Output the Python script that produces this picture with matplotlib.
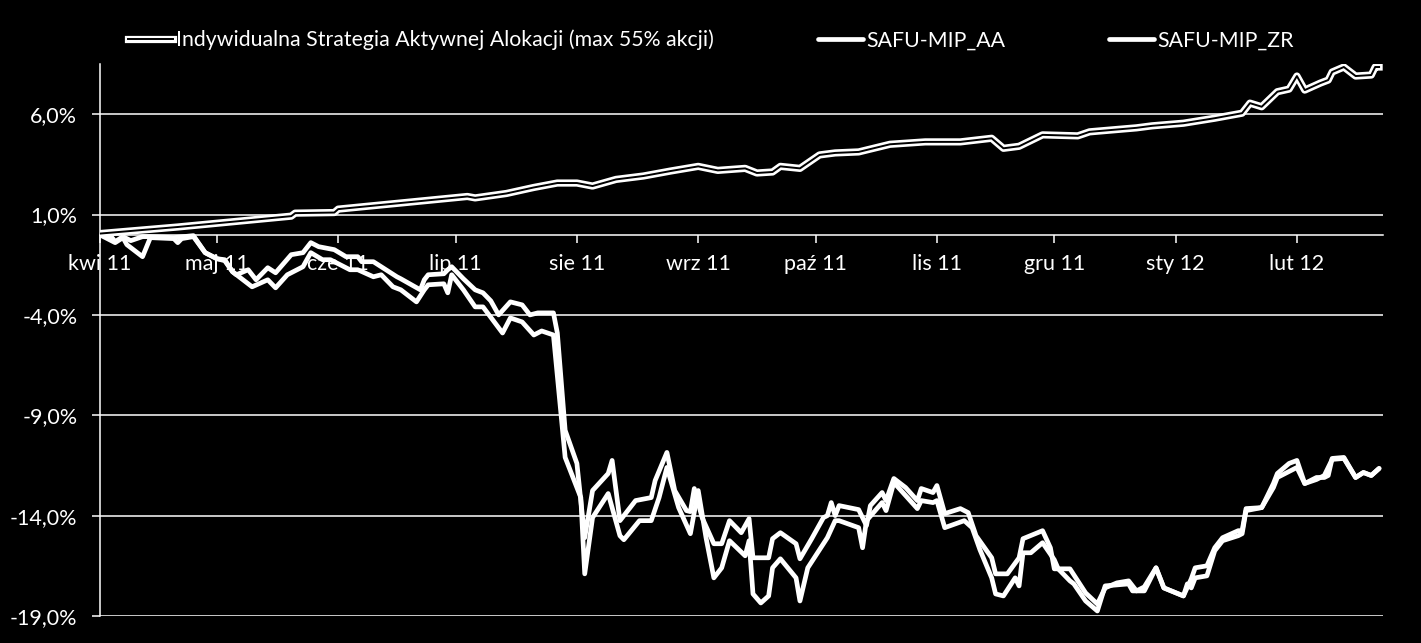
import matplotlib
matplotlib.use("Agg")
import matplotlib.pyplot as plt
import matplotlib.patheffects as pe
import pandas as pd

plt.rcParams['font.family'] = ['Lato', 'DejaVu Sans']

start_date = "2011-04-01"
month_labels = ["kwi 11", "maj 11", "cze 11", "lip 11", "sie 11", "wrz 11",
                "paź 11", "lis 11", "gru 11", "sty 12", "lut 12"]
y_ticks = [-19, -14, -9, -4, 1, 6]

series_names = ["Indywidualna Strategia Aktywnej Alokacji (max 55% akcji)",
                "SAFU-MIP_AA", "SAFU-MIP_ZR"]

# days since start date
days_isa = [0, 20, 49, 50, 60, 61, 94, 96, 104, 111,
            117, 122, 126, 132, 139, 146, 153, 158, 165, 168,
            172, 174, 179, 184, 188, 194, 202, 211, 220, 228,
            231, 235, 241, 250, 253, 265, 269, 277, 285, 292,
            294, 297, 301, 304, 306, 308, 312, 314, 315, 318,
            321, 325, 326, 327]
vals_isa = [0.05, 0.38, 0.92, 1.07, 1.10, 1.27, 1.90, 1.83, 2.05, 2.35,
            2.57, 2.57, 2.42, 2.75, 2.92, 3.17, 3.40, 3.20, 3.30, 3.07,
            3.12, 3.40, 3.30, 3.97, 4.07, 4.12, 4.50, 4.62, 4.62, 4.80,
            4.30, 4.40, 4.97, 4.92, 5.12, 5.32, 5.42, 5.55, 5.80, 6.05,
            6.55, 6.37, 7.12, 7.25, 7.90, 7.20, 7.55, 7.70, 8.10, 8.35,
            7.90, 7.95, 8.35, 8.35]

days_aa = [0, 3, 4, 6, 8, 11, 13, 19, 24, 27,
           30, 32, 34, 35, 38, 40, 43, 45, 49, 52,
           54, 56, 60, 63, 66, 67, 70, 72, 76, 77,
           82, 83, 84, 88, 89, 90, 93, 96, 98, 100,
           102, 105, 108, 110, 112, 116, 117, 119, 122, 124,
           126, 130, 131, 133, 137, 141, 142, 145, 147, 150,
           151, 152, 154, 157, 159, 161, 164, 166, 167, 171,
           172, 174, 178, 179, 182, 185, 186, 187, 188, 189,
           194, 196, 197, 200, 201, 203, 206, 209, 210, 213,
           214, 216, 220, 222, 224, 228, 229, 232, 235, 236,
           241, 243, 244, 248, 252, 255, 257, 260, 263, 265,
           267, 270, 272, 277, 279, 280, 283, 285, 287, 291,
           292, 293, 297, 300, 301, 304, 306, 308, 311, 313,
           314, 315, 318, 321, 323, 325, 327]
vals_aa = [0.0, -0.1, -0.35, -0.1, -0.3, -0.1, -0.1, -0.15, -0.05, -0.9,
           -1.2, -1.25, -1.85, -2.0, -1.75, -2.25, -1.65, -1.9, -1.0, -0.9,
           -0.4, -0.6, -0.75, -1.1, -1.1, -1.35, -1.35, -1.6, -2.1, -2.2,
           -2.75, -2.25, -2.0, -1.95, -1.75, -1.6, -2.2, -2.75, -2.9, -3.3,
           -4.0, -3.35, -3.5, -4.0, -3.9, -3.9, -4.9, -9.75, -11.4, -15.1,
           -12.75, -11.9, -11.25, -14.25, -13.25, -13.1, -12.25, -10.85, -12.75, -13.75,
           -13.8, -12.65, -14.1, -15.4, -15.4, -14.25, -14.85, -14.15, -16.1, -16.1,
           -15.15, -14.85, -15.4, -16.15, -15.15, -14.1, -14.0, -13.35, -14.0, -13.5,
           -13.7, -14.5, -13.5, -12.85, -13.25, -12.15, -12.6, -13.25, -12.65, -12.85,
           -12.5, -13.9, -13.65, -13.85, -15.0, -16.1, -16.9, -16.9, -16.1, -15.15,
           -14.75, -15.6, -16.65, -16.65, -17.85, -18.4, -17.6, -17.35, -17.25, -17.75,
           -17.55, -16.6, -17.6, -18.0, -17.15, -16.6, -16.5, -15.6, -15.1, -14.75,
           -14.75, -13.65, -13.6, -12.4, -11.9, -11.4, -11.25, -12.4, -12.1, -12.1,
           -12.0, -11.15, -11.1, -12.1, -11.85, -12.0, -11.65]

days_zr = [0, 4, 6, 7, 11, 13, 19, 20, 21, 24,
           27, 30, 32, 34, 39, 43, 45, 48, 52, 54,
           57, 59, 64, 66, 70, 72, 75, 77, 81, 83,
           84, 88, 89, 90, 93, 96, 98, 103, 105, 108,
           111, 113, 116, 119, 123, 124, 126, 130, 133, 134,
           138, 141, 143, 145, 148, 151, 153, 155, 157, 159,
           161, 165, 166, 167, 169, 171, 172, 174, 178, 179,
           181, 185, 186, 188, 189, 194, 195, 196, 200, 201,
           203, 206, 209, 210, 213, 214, 216, 221, 223, 225,
           228, 229, 231, 234, 235, 236, 238, 241, 244, 245,
           248, 249, 252, 255, 257, 263, 264, 267, 270, 272,
           277, 278, 279, 280, 283, 285, 287, 291, 292, 293,
           297, 300, 301, 306, 308, 311, 313, 315, 318, 321,
           323, 325, 327]
vals_zr = [0.0, -0.4, -0.15, -0.5, -1.1, -0.15, -0.2, -0.4, -0.2, -0.1,
           -0.9, -1.2, -1.3, -1.85, -2.6, -2.25, -2.65, -2.0, -1.6, -0.9,
           -1.25, -1.25, -1.75, -1.75, -2.1, -2.0, -2.6, -2.75, -3.35, -2.75,
           -2.5, -2.45, -2.9, -2.0, -2.75, -3.6, -3.6, -4.9, -4.15, -4.35,
           -5.0, -4.8, -5.0, -11.1, -13.1, -16.9, -14.1, -12.9, -15.0, -15.2,
           -14.25, -14.25, -13.1, -11.6, -13.6, -14.9, -12.75, -15.1, -17.1, -16.6,
           -15.25, -16.0, -15.25, -17.9, -18.35, -18.0, -16.6, -16.15, -17.1, -18.25,
           -16.6, -15.4, -15.1, -14.25, -14.25, -14.6, -15.6, -14.25, -13.35, -13.75,
           -12.35, -13.0, -13.65, -13.25, -13.35, -13.25, -14.6, -14.25, -14.6, -15.7,
           -17.1, -17.9, -18.0, -17.1, -17.5, -15.85, -15.85, -15.35, -16.2, -16.65,
           -17.25, -17.4, -18.25, -18.75, -17.5, -17.4, -17.75, -17.75, -16.6, -17.6,
           -18.0, -17.4, -17.6, -17.1, -17.0, -15.75, -15.25, -15.0, -14.9, -13.75,
           -13.6, -12.6, -12.1, -11.6, -12.4, -12.2, -12.0, -11.2, -11.15, -12.1,
           -11.85, -12.0, -11.65]

t0 = pd.Timestamp(start_date)
def to_dates(days):
    return [t0 + pd.Timedelta(days=d) for d in days]

W, H = 1421, 643
fig = plt.figure(figsize=(W / 100, H / 100), dpi=100, facecolor='black')
ax = fig.add_axes([99.5 / W, 1 - 616 / H, (1383 - 99.5) / W, (616 - 64) / H])
ax.set_facecolor('black')

FS = 15.5
ax.set_ylim(-19, 8.5)
ax.set_xlim(t0, t0 + pd.Timedelta(days=328))

ax.set_yticks(y_ticks)
ax.set_yticklabels([f"{v:.1f}%".replace('.', ',') for v in y_ticks])
month_starts = pd.date_range(start_date, periods=len(month_labels), freq='MS')
ax.set_xticks(month_starts)
ax.set_xticklabels(month_labels)

ax.grid(axis='y', color='white', linewidth=1.1, zorder=0)
ax.set_axisbelow(True)

for s in ['top', 'right']:
    ax.spines[s].set_visible(False)
ax.spines['left'].set_color('white')
ax.spines['left'].set_linewidth(1.1)
ax.spines['bottom'].set_position(('data', 0))
ax.spines['bottom'].set_color('white')
ax.spines['bottom'].set_linewidth(1.1)

ax.tick_params(axis='y', colors='white', labelsize=FS, length=6, width=1.1,
               direction='out', pad=10)
ax.tick_params(axis='x', colors='white', labelsize=FS, length=6, width=1.1,
               direction='out', pad=8)

ax.plot(to_dates(days_aa), vals_aa, color='white', lw=3.4,
        solid_joinstyle='round', solid_capstyle='round', label=series_names[1], zorder=3)
ax.plot(to_dates(days_zr), vals_zr, color='white', lw=3.4,
        solid_joinstyle='round', solid_capstyle='round', label=series_names[2], zorder=3)
ax.plot(to_dates(days_isa), vals_isa, color='black', lw=1.4,
        solid_joinstyle='round', label=series_names[0], zorder=4,
        path_effects=[pe.Stroke(linewidth=5.2, foreground='white', joinstyle='round'),
                      pe.Normal()])

handles, labels = ax.get_legend_handles_labels()
order = [2, 0, 1]
leg = fig.legend([handles[i] for i in order], [labels[i] for i in order],
                 loc='center', bbox_to_anchor=(711 / W, 1 - 40 / H), ncol=3,
                 frameon=False, fontsize=15.3, handlelength=2.1, handletextpad=0.15,
                 columnspacing=4.9, borderaxespad=0)
for t in leg.get_texts():
    t.set_color('white')

fig.savefig("out.png", dpi=100, facecolor='black')
